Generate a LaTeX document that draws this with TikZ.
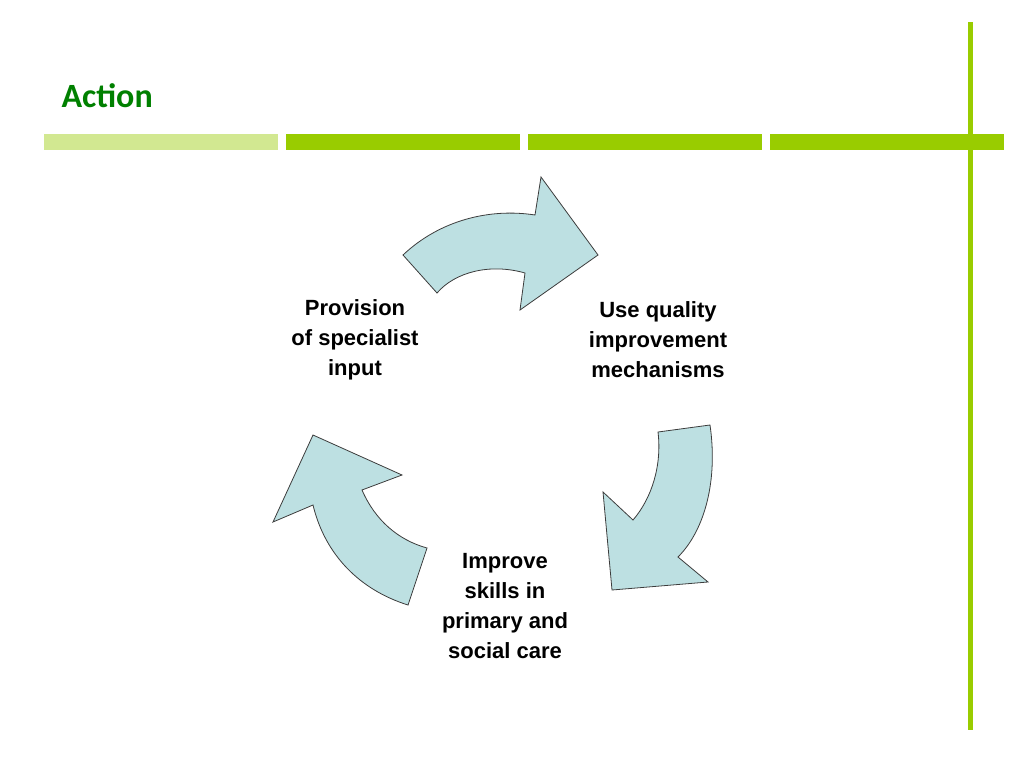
\documentclass[tikz,border=0pt]{standalone}
\usepackage{fontspec}
\setmainfont{Liberation Sans}
\newfontfamily\titlefont{Carlito}
\begin{document}
\begin{tikzpicture}[x=1pt,y=-1pt,
  arr/.style={fill={rgb,255:red,189;green,224;blue,226},draw={rgb,255:red,60;green,60;blue,60},line width=0.8pt,line join=miter},
  lbl/.style={font=\fontsize{22}{30}\selectfont\bfseries,align=center}]
\definecolor{lg}{RGB}{153,204,0}
\definecolor{pg}{RGB}{210,232,145}
\useasboundingbox (0,0) rectangle (1024,768);
\node[anchor=west,text={rgb,255:red,0;green,128;blue,0},font=\titlefont\fontsize{34}{40}\selectfont\bfseries] (title) at (58,96) {Action};
\fill[pg] (44,134) rectangle (278,150);
\fill[lg] (286,134) rectangle (520,150);
\fill[lg] (528,134) rectangle (762,150);
\fill[lg] (770,134) rectangle (1004,150);
\fill[lg] (968,22) rectangle (973,730);
% top arrow
\draw[arr] (403,255) .. controls (440,220) and (490,208) .. (535,215) -- (541,177) -- (598,255) -- (520,310) -- (525,273) .. controls (490,263) and (455,272) .. (437,293) -- cycle;
% right arrow
\draw[arr] (710,425) .. controls (718,480) and (705,530) .. (678,557) -- (708,582) -- (612,590) -- (603,492) -- (633,520) .. controls (652,498) and (662,465) .. (658,432) -- cycle;
% left arrow
\draw[arr] (273,522) -- (313,435) -- (402,475) -- (362,490) .. controls (375,520) and (398,540) .. (427,548) -- (408,605) .. controls (360,590) and (325,555) .. (313,505) -- cycle;
\node[lbl] (a) at (355,340) {Provision\\of specialist\\input};
\node[lbl] (b) at (658,340) {Use quality\\improvement\\mechanisms};
\node[lbl] (c) at (505,606) {Improve\\skills in\\primary and\\social care};
\end{tikzpicture}
\end{document}
